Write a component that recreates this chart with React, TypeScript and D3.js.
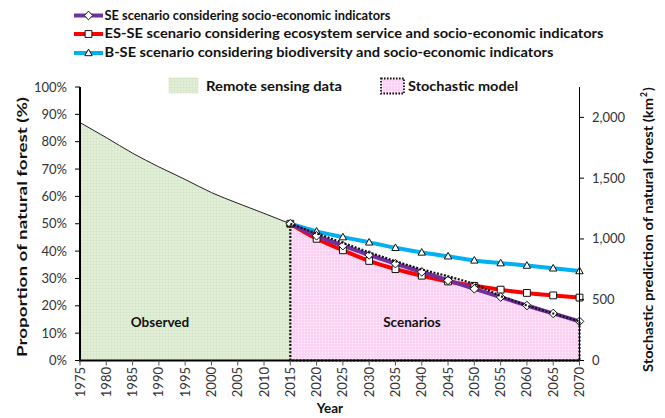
import React from "react";
import * as d3 from "d3";

const observedYears = [1975, 1980, 1985, 1990, 1995, 2000, 2005, 2010, 2015];
const observedPct = [87, 81.5, 75.8, 70.8, 66.2, 61.4, 57.5, 53.8, 50];

const scenarioYears = [2015, 2020, 2025, 2030, 2035, 2040, 2045, 2050, 2055, 2060, 2065, 2070];
const sePct = [50, 45.6, 42.0, 38.6, 35.4, 32.4, 29.3, 26.2, 23.2, 20.1, 17.2, 14.3];
const esSePct = [50, 44.5, 40.3, 36.4, 33.4, 31.0, 28.9, 27.3, 25.9, 24.7, 23.8, 23.0];
const bSePct = [50, 47.2, 45.1, 43.2, 41.2, 39.5, 38.1, 36.6, 35.6, 34.7, 33.7, 32.7];
const stochasticKm2 = [1125, 1046, 968, 889, 817, 749, 693, 632, 529, 452, 387, 322];

const xTicks = d3.range(1975, 2071, 5);
const leftTicks = [0, 10, 20, 30, 40, 50, 60, 70, 80, 90, 100];
const rightTicks = [0, 500, 1000, 1500, 2000];

const legendLabels = [
  "SE scenario considering socio-economic indicators",
  "ES-SE scenario considering ecosystem service and socio-economic indicators",
  "B-SE scenario considering biodiversity and socio-economic indicators",
];
const areaLabels = ["Remote sensing data", "Stochastic model"];

const FONT = "Lato, 'Open Sans', sans-serif";
const PURPLE = "#7030a0";
const RED = "#ff0000";
const BLUE = "#00b0f0";

export default function App() {
  const W = 665, H = 418;
  const x = d3.scaleLinear().domain([1975, 2070]).range([80, 579.5]);
  const yL = d3.scaleLinear().domain([0, 100]).range([360.5, 87]);
  const yR = d3.scaleLinear().domain([0, 2250]).range([360.5, 87]);

  const obsPts: [number, number][] = observedYears.map((yr, i) => [x(yr), yL(observedPct[i])]);
  const obsArea = d3.area<[number, number]>().x(d => d[0]).y0(yL(0)).y1(d => d[1])(obsPts) || "";
  const obsLine = d3.line<[number, number]>().x(d => d[0]).y(d => d[1]).curve(d3.curveMonotoneX)(obsPts) || "";

  const stoPts: [number, number][] = scenarioYears.map((yr, i) => [x(yr), yR(stochasticKm2[i])]);
  const stoArea = d3.area<[number, number]>().x(d => d[0]).y0(yR(0)).y1(d => d[1])(stoPts) || "";
  const stoLine = d3.line<[number, number]>().x(d => d[0]).y(d => d[1])(stoPts) || "";
  const stoOutline =
    `M${x(2015)},${yR(0)}L${x(2015)},${yR(stochasticKm2[0])}` +
    stoLine.replace(/^M/, "L") +
    `L${x(2070)},${yR(0)}Z`;

  const smooth = d3.line<[number, number]>().x(d => d[0]).y(d => d[1]).curve(d3.curveMonotoneX);
  const pts = (vals: number[]) => scenarioYears.map((yr, i) => [x(yr), yL(vals[i])] as [number, number]);

  const series = [
    { vals: esSePct, color: RED, marker: "square" },
    { vals: bSePct, color: BLUE, marker: "triangle" },
    { vals: sePct, color: PURPLE, marker: "diamond" },
  ];

  const markerPath = (type: string) => {
    if (type === "square") return "M-3.4,-3.4H3.4V3.4H-3.4Z";
    if (type === "triangle") return "M0,-3.9L3.7,2.7H-3.7Z";
    return "M0,-4.3L4.3,0L0,4.3L-4.3,0Z";
  };

  const legendRows = [
    { label: legendLabels[0], color: PURPLE, marker: "diamond", y: 15.5, w: 286 },
    { label: legendLabels[1], color: RED, marker: "square", y: 34, w: 499 },
    { label: legendLabels[2], color: BLUE, marker: "triangle", y: 53, w: 449 },
  ];

  return (
    <div style={{ margin: 0 }}>
      <style>{`body{margin:0}`}</style>
      <svg width={W} height={H} style={{ display: "block" }} fontFamily={FONT}>
        <defs>
          <pattern id="greenPat" width="3" height="3" patternUnits="userSpaceOnUse">
            <rect width="3" height="3" fill="#e3efd9" />
            <rect width="3" height="0.6" fill="#d3e6c5" />
            <rect width="0.6" height="3" fill="#d3e6c5" />
          </pattern>
          <pattern id="pinkPat" width="3" height="3" patternUnits="userSpaceOnUse">
            <rect width="3" height="3" fill="#fcd2f4" />
            <circle cx="1.5" cy="1.5" r="0.7" fill="#fff3fc" />
          </pattern>
        </defs>
        <rect width={W} height={H} fill="#fff" />

        {/* areas */}
        <path d={obsArea} fill="url(#greenPat)" />
        <path d={obsLine} fill="none" stroke="#222" strokeWidth={1} />
        <path d={stoArea} fill="url(#pinkPat)" />

        {/* area labels */}
        <text x={160} y={327} textAnchor="middle" fontWeight="bold" fontSize={13.5} fill="#111">Observed</text>
        <text x={412} y={327} textAnchor="middle" fontWeight="bold" fontSize={13.5} fill="#111">Scenarios</text>

        {/* scenario lines */}
        {series.map((s, i) => (
          <path key={"l" + i} d={smooth(pts(s.vals)) || ""} fill="none" stroke={s.color} strokeWidth={4} />
        ))}
        {series.map((s, i) =>
          pts(s.vals).map((p, j) => (
            <path key={"m" + i + "-" + j} d={markerPath(s.marker)} transform={`translate(${p[0]},${p[1]})`}
              fill="#fff" stroke="#111" strokeWidth={1} />
          ))
        )}

        {/* stochastic outline */}
        <path d={stoOutline} fill="none" stroke="#111" strokeWidth={2.2} strokeDasharray="2 1.6" />

        {/* axes */}
        <line x1={80} x2={80} y1={87} y2={361.5} stroke="#000" strokeWidth={2} />
        <line x1={79} x2={580} y1={360.5} y2={360.5} stroke="#000" strokeWidth={2} />
        <line x1={579.5} x2={579.5} y1={87} y2={361} stroke="#000" strokeWidth={1} />

        {leftTicks.map(t => (
          <g key={"lt" + t}>
            <line x1={75} x2={80} y1={yL(t)} y2={yL(t)} stroke="#000" strokeWidth={1} />
            <text x={67} y={yL(t)} dy="0.35em" textAnchor="end" fontSize={13} fill="#333">{t + "%"}</text>
          </g>
        ))}
        {rightTicks.map(t => (
          <g key={"rt" + t}>
            <line x1={579.5} x2={584} y1={yR(t)} y2={yR(t)} stroke="#000" strokeWidth={1} />
            <text x={592} y={yR(t)} dy="0.35em" textAnchor="start" fontSize={13} fill="#333">{d3.format(",")(t)}</text>
          </g>
        ))}
        {xTicks.map(t => (
          <g key={"xt" + t}>
            <line x1={x(t)} x2={x(t)} y1={360.5} y2={365.5} stroke="#555" strokeWidth={1} />
            <text transform={`translate(${x(t)},${367}) rotate(-90)`} dy="0.35em" textAnchor="end" fontSize={13} fill="#333">{t}</text>
          </g>
        ))}

        {/* axis titles */}
        <text transform="translate(22,227) rotate(-90)" textAnchor="middle" dy="0.35em" fontWeight="bold" fontSize={13.5} fill="#111"
          textLength={260} lengthAdjust="spacingAndGlyphs">Proportion of natural forest  (%)</text>
        <g transform="translate(648,227) rotate(-90)">
          <text x={-145} y={0} dy="0.35em" fontWeight="bold" fontSize={13.5} fill="#111"
            textLength={274} lengthAdjust="spacingAndGlyphs">Stochastic prediction of natural forest (km</text>
          <text x={130} y={-4} dy="0.35em" fontWeight="bold" fontSize={8.5} fill="#111">2</text>
          <text x={136} y={0} dy="0.35em" fontWeight="bold" fontSize={13.5} fill="#111">)</text>
        </g>
        <text x={330} y={413} textAnchor="middle" fontWeight="bold" fontSize={13.5} fill="#111">Year</text>

        {/* top legend */}
        {legendRows.map((r, i) => (
          <g key={"lg" + i}>
            <line x1={74} x2={103} y1={r.y} y2={r.y} stroke={r.color} strokeWidth={4} />
            <path d={markerPath(r.marker)} transform={`translate(88.5,${r.y})`} fill="#fff" stroke="#111" strokeWidth={1} />
            <text x={104.5} y={r.y} dy="0.35em" fontWeight="bold" fontSize={12.5} fill="#111"
              textLength={r.w} lengthAdjust="spacingAndGlyphs">{r.label}</text>
          </g>
        ))}

        {/* area legend */}
        <rect x={169} y={78} width={29} height={15} fill="url(#greenPat)" stroke="#c9dcbb" strokeWidth={0.5} />
        <text x={206} y={86} dy="0.35em" fontWeight="bold" fontSize={13} fill="#111"
          textLength={136} lengthAdjust="spacingAndGlyphs">{areaLabels[0]}</text>
        <rect x={381} y={78.5} width={23} height={15} fill="url(#pinkPat)" stroke="#111" strokeWidth={1.8} strokeDasharray="1.6 1.4" />
        <text x={408} y={86} dy="0.35em" fontWeight="bold" fontSize={13} fill="#111"
          textLength={110} lengthAdjust="spacingAndGlyphs">{areaLabels[1]}</text>
      </svg>
    </div>
  );
}
